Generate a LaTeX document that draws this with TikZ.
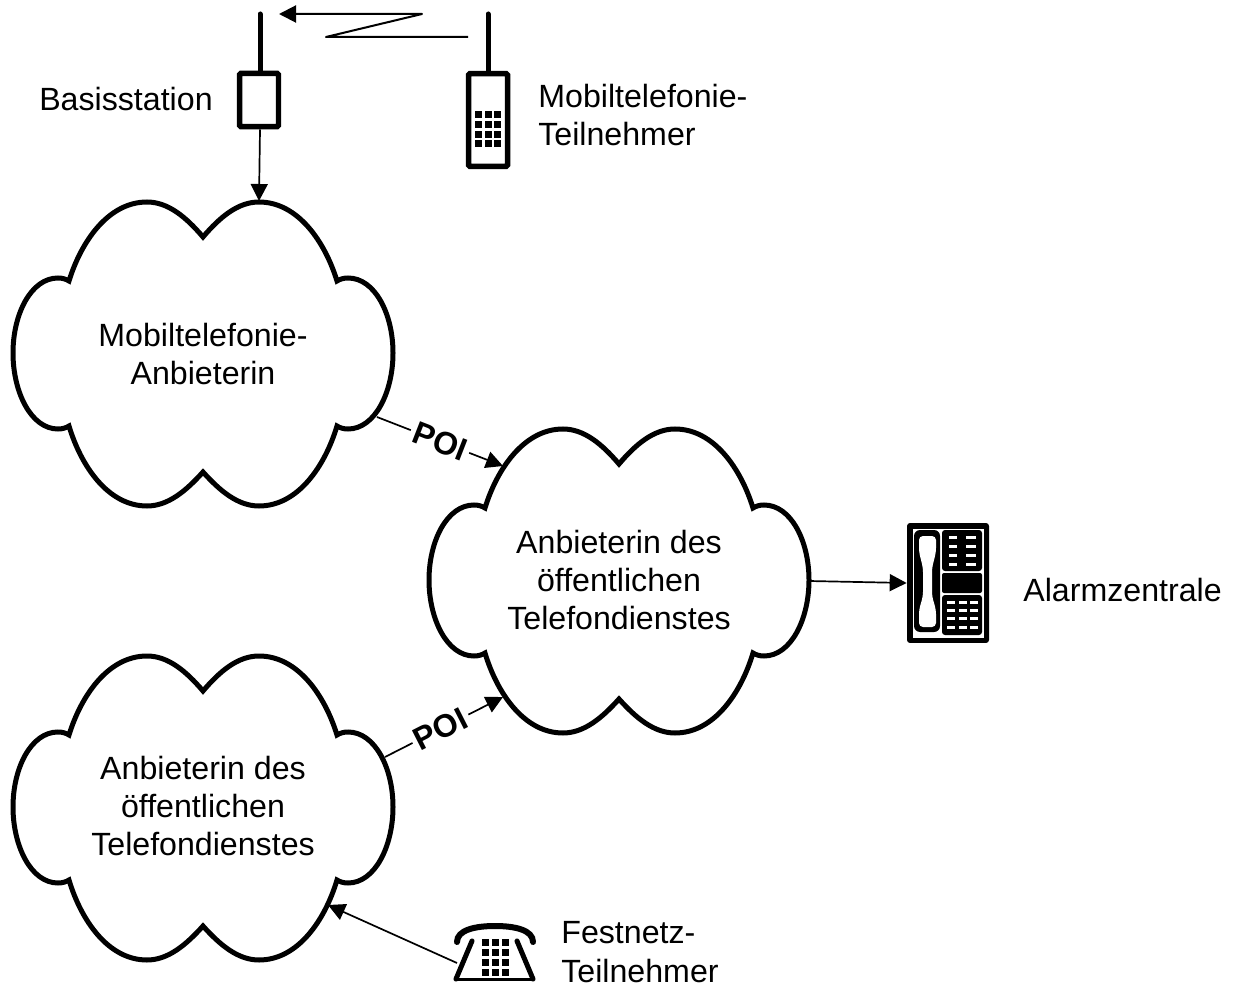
\documentclass[tikz,border=0pt]{standalone}
\usepackage{fontspec}
\setmainfont{Liberation Sans}
\usetikzlibrary{arrows.meta}
\tikzset{
  x=0.02cm,y=-0.02cm,
  cloudline/.style={line width=0.1cm,line join=miter,miter limit=3,draw=black},
  pics/cloudshape/.style={code={
    \draw[cloudline] (0,-117)
      .. controls (17,-137) and (35,-152) .. (56,-152)
      .. controls (95,-152) and (122,-112) .. (134,-73)
      .. controls (137,-75) and (141,-76) .. (145,-76)
      .. controls (172,-76) and (190,-40) .. (190,-1)
      .. controls (190,38) and (172,75) .. (145,75)
      .. controls (141,75) and (137,74) .. (134,72)
      .. controls (122,112) and (95,152) .. (56,152)
      .. controls (35,152) and (17,137) .. (0,118)
      .. controls (-17,137) and (-35,152) .. (-56,152)
      .. controls (-95,152) and (-122,112) .. (-134,72)
      .. controls (-137,74) and (-141,75) .. (-145,75)
      .. controls (-172,75) and (-190,38) .. (-190,-1)
      .. controls (-190,-40) and (-172,-76) .. (-145,-76)
      .. controls (-141,-76) and (-137,-75) .. (-134,-73)
      .. controls (-122,-112) and (-95,-152) .. (-56,-152)
      .. controls (-35,-152) and (-17,-137) .. (0,-117) -- cycle;
  }},
  txt/.style={font=\fontsize{18.3}{21.9}\selectfont,inner sep=0pt,align=center},
  lefttxt/.style={font=\fontsize{18.3}{21.9}\selectfont,inner sep=0pt,align=left,anchor=west},
  poilabel/.style={font=\fontsize{18.3}{21.9}\selectfont\bfseries,inner xsep=2pt,inner ysep=0pt,fill=white,sloped},
  conn/.style={line width=0.034cm,-{Triangle[length=0.34cm,width=0.34cm]}},
  radio/.style={line width=0.04cm,-{Triangle[length=0.34cm,width=0.34cm]},line join=round},
  antenna/.style={line width=0.1cm,line cap=round},
  iconbox/.style={draw=black,line width=0.11cm,rounded corners=0.03cm,inner sep=0pt,minimum width=0.78cm},
  key/.style={fill=black},
}
\begin{document}
\begin{tikzpicture}
\useasboundingbox (0,0) rectangle (1237,986);

% clouds
\pic at (203,354) {cloudshape};
\pic at (619,581) {cloudshape};
\pic at (203,808) {cloudshape};
\node[txt] (mob) at (203,354) {Mobiltelefonie-\\Anbieterin};
\node[txt] (pub) at (619,580) {Anbieterin des\\öffentlichen\\Telefondienstes};
\node[txt] (fix) at (203,806) {Anbieterin des\\öffentlichen\\Telefondienstes};
\coordinate (mobtop) at (259,201);
\coordinate (mobout) at (377,417);
\coordinate (pubinA) at (503,466);
\coordinate (pubinB) at (503,697);
\coordinate (pubout) at (809,581);
\coordinate (fixout) at (385,757);
\coordinate (fixin) at (328,905);

% base station
\node[iconbox,minimum height=1.07cm] (bs) at (259,100) {};
\coordinate (bstip) at (260,14);
\draw[antenna] (bstip) -- (bs.north -| bstip);
% mobile phone
\node[iconbox,minimum height=1.86cm] (hand) at (488,120) {};
\coordinate (handtip) at (488,14);
\draw[antenna] (handtip) -- (hand.north);
\foreach \kx in {475,485,494} \foreach \ky in {111,121,131,140}
  \fill[key] (\kx,\ky) rectangle ++(7,7);

% radio link
\coordinate (rA) at (468,37);
\coordinate (rB) at (326,37);
\coordinate (rC) at (422,14);
\coordinate (rD) at (279,14);
\draw[radio] (rA) -- (rB) -- (rC) -- (rD);

% alarm phone
\node[draw=none,fill=black,rounded corners=0.06cm,inner sep=0pt,minimum width=1.64cm,minimum height=2.4cm] (alarm) at (948,583) {};
\fill[white] (912.5,529) rectangle (984,637.5);
\fill[black,rounded corners=0.12cm] (914,530) rectangle (940,632);
\fill[white,rounded corners=0.08cm] (919,536) -- (936,536) -- (936,552) -- (932,568) -- (932,596) -- (936,610) -- (936,627)
  -- (919,627) -- (919,610) -- (923,596) -- (923,568) -- (919,552) -- cycle;
\fill[black,rounded corners=0.06cm] (942,530) rectangle (982,571);
\fill[black,rounded corners=0.04cm] (942,573) rectangle (982,593);
\fill[black,rounded corners=0.06cm] (942,595) rectangle (982,635);
\foreach \kx/\kw in {949/8,966/10} \foreach \ky in {537,546,555,564}
  \fill[white] (\kx,\ky-1.5) rectangle ++(\kw,3);
\foreach \kx in {947,959,970} \foreach \ky in {602,610,618,627}
  \fill[white] (\kx,\ky-1.5) rectangle ++(7.5,3);

% landline phone
\node[inner sep=0pt,minimum width=1.56cm,minimum height=1.26cm] (fest) at (495,953) {};
\draw[line width=0.12cm,line cap=round] (457,942) .. controls (457,930) and (475,926) .. (495,926)
  .. controls (515,926) and (533,930) .. (533,942);
\draw[line width=0.1cm,line cap=round] (472,941) -- (456,979);
\draw[line width=0.1cm,line cap=round] (517,941) -- (533,979);
\draw[line width=0.06cm,line cap=round] (456,979.5) -- (533,979.5);
\foreach \kx in {482,492,502} \foreach \ky in {939,949,959,969}
  \fill[key] (\kx,\ky) rectangle ++(6.5,6.5);
\coordinate (festout) at (457,963);

% connectors
\draw[conn] (bs.south -| bstip) -- (mobtop);
\draw[conn] (mobout) -- node[poilabel]{POI} (pubinA);
\draw[conn] (fixout) -- node[poilabel,pos=0.47]{POI} (pubinB);
\draw[conn] (pubout) -- (alarm.west);
\draw[conn] (festout) -- (fixin);

% labels
\node[txt,anchor=east] (lbs) at (213,99) {Basisstation};
\node[lefttxt] (lmob) at (538,115) {Mobiltelefonie-\\Teilnehmer};
\node[lefttxt] (lalarm) at (1023,590) {Alarmzentrale};
\node[lefttxt] (lfest) at (561,952) {Festnetz-\\Teilnehmer};
\end{tikzpicture}
\end{document}
